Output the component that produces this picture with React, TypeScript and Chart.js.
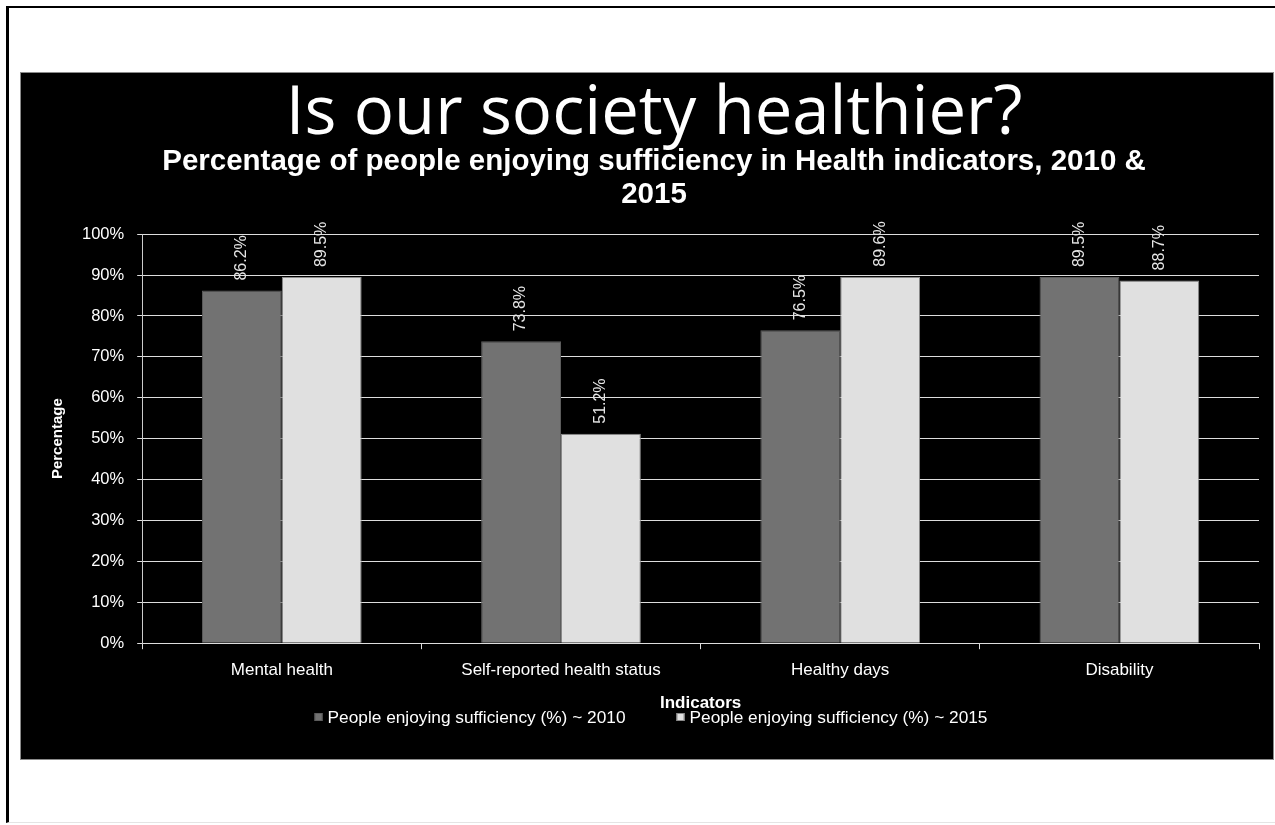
import React, { useEffect, useRef } from "react";
import { Chart, registerables } from "chart.js";

Chart.register(...registerables);

const categories = ["Mental health", "Self-reported health status", "Healthy days", "Disability"];
const values2010 = [86.2, 73.8, 76.5, 89.5];
const values2015 = [89.5, 51.2, 89.6, 88.7];
const seriesNames = ["People enjoying sufficiency (%) ~ 2010", "People enjoying sufficiency (%) ~ 2015"];
const seriesColors = ["#727272", "#e0e0e0"];
const seriesBorders = ["#5c5c5c", "#8a8a8a"];
const titleText = "Is our society healthier?";
const subtitleLines = ["Percentage of people enjoying sufficiency in Health indicators, 2010 &", "2015"];

const FONT = "Arial, 'Liberation Sans', sans-serif";

const barLabelPlugin = {
  id: "barLabels",
  afterDatasetsDraw(chart: any) {
    const ctx = chart.ctx;
    chart.data.datasets.forEach((ds: any, di: number) => {
      const meta = chart.getDatasetMeta(di);
      meta.data.forEach((bar: any, i: number) => {
        const v = ds.data[i];
        ctx.save();
        ctx.translate(bar.x, bar.y - 10);
        ctx.rotate(-Math.PI / 2);
        ctx.font = "16px " + FONT;
        ctx.fillStyle = "#e6e6e6";
        ctx.textAlign = "left";
        ctx.textBaseline = "middle";
        ctx.fillText(v.toFixed(1) + "%", 0, 0);
        ctx.restore();
      });
    });
  },
};

const customLegendPlugin = {
  id: "customLegend",
  afterDraw(chart: any) {
    const ctx = chart.ctx;
    const fontSize = 17.3;
    const box = 8;
    const textGap = 5;
    const itemGap = 51;
    ctx.save();
    ctx.font = fontSize + "px " + FONT;
    const widths = seriesNames.map((n) => box + textGap + ctx.measureText(n).width);
    const total = widths.reduce((a, b) => a + b, 0) + itemGap * (widths.length - 1);
    let x = (chart.width - total) / 2 + 4;
    const y = chart.height - 42;
    seriesNames.forEach((n, i) => {
      ctx.fillStyle = seriesColors[i];
      ctx.strokeStyle = seriesBorders[i];
      ctx.lineWidth = 1;
      ctx.fillRect(x, y - box / 2, box, box);
      ctx.strokeRect(x + 0.5, y - box / 2 + 0.5, box - 1, box - 1);
      ctx.fillStyle = "#ffffff";
      ctx.textAlign = "left";
      ctx.textBaseline = "middle";
      ctx.fillText(n, x + box + textGap, y + 1);
      x += widths[i] + itemGap;
    });
    ctx.restore();
  },
};

export default function App() {
  const ref = useRef<HTMLCanvasElement>(null);
  useEffect(() => {
    if (!ref.current) return;
    const chart = new Chart(ref.current, {
      type: "bar",
      data: {
        labels: categories,
        datasets: [values2010, values2015].map((vals, i) => ({
          label: seriesNames[i],
          data: vals,
          backgroundColor: seriesColors[i],
          borderColor: seriesBorders[i],
          borderWidth: 1,
          categoryPercentage: 0.572,
          barPercentage: 1,
        })),
      },
      options: {
        responsive: false,
        animation: false,
        layout: { padding: { left: 28, right: 14, top: 14.5, bottom: 45 } },
        plugins: {
          title: {
            display: true,
            text: titleText,
            color: "#ffffff",
            font: { family: "'Open Sans', Lato, sans-serif", size: 67, weight: "normal", lineHeight: 0.822 },
            padding: { top: 0, bottom: 2.5 },
          },
          subtitle: {
            display: true,
            text: subtitleLines,
            color: "#ffffff",
            font: { family: FONT, size: 29.5, weight: "bold", lineHeight: 1.12 },
            padding: { top: 0, bottom: 23 },
          },
          legend: { display: false },
          tooltip: { enabled: false },
        },
        scales: {
          x: {
            grid: { drawOnChartArea: false, drawTicks: true, tickLength: 6, color: "#dddddd", offset: true },
            border: { color: "#dddddd", width: 1 },
            ticks: { color: "#ffffff", padding: 11, font: { family: FONT, size: 17 } },
            title: {
              display: true,
              text: "Indicators",
              color: "#ffffff",
              padding: { top: 2, bottom: 0 },
              font: { family: FONT, size: 17, weight: "bold" },
            },
          },
          y: {
            min: 0,
            max: 100,
            grid: { color: "#dddddd", tickLength: 5, lineWidth: 1 },
            border: { color: "#cccccc", width: 1 },
            ticks: {
              stepSize: 10,
              color: "#ffffff",
              padding: 13,
              font: { family: FONT, size: 16.5 },
              callback: (v: any) => v + "%",
            },
            title: {
              display: true,
              text: "Percentage",
              color: "#ffffff",
              padding: { top: 0, bottom: 2 },
              font: { family: FONT, size: 15, weight: "bold" },
            },
          },
        },
      },
      plugins: [barLabelPlugin, customLegendPlugin],
    });
    return () => chart.destroy();
  }, []);

  return (
    <div>
      <div
        style={{
          position: "absolute",
          left: 6,
          top: 6,
          width: 1269,
          height: 817,
          boxSizing: "border-box",
          borderLeft: "3px solid #000",
          borderTop: "2px solid #000",
          borderBottom: "1px solid #e4e4e4",
          background: "#fff",
        }}
      />
      <div
        style={{
          position: "absolute",
          left: 20,
          top: 72,
          width: 1254,
          height: 688,
          boxSizing: "border-box",
          background: "#000",
          border: "1px solid #8a8a8a",
        }}
      >
        <canvas ref={ref} width={1252} height={686} style={{ display: "block" }} />
      </div>
    </div>
  );
}
